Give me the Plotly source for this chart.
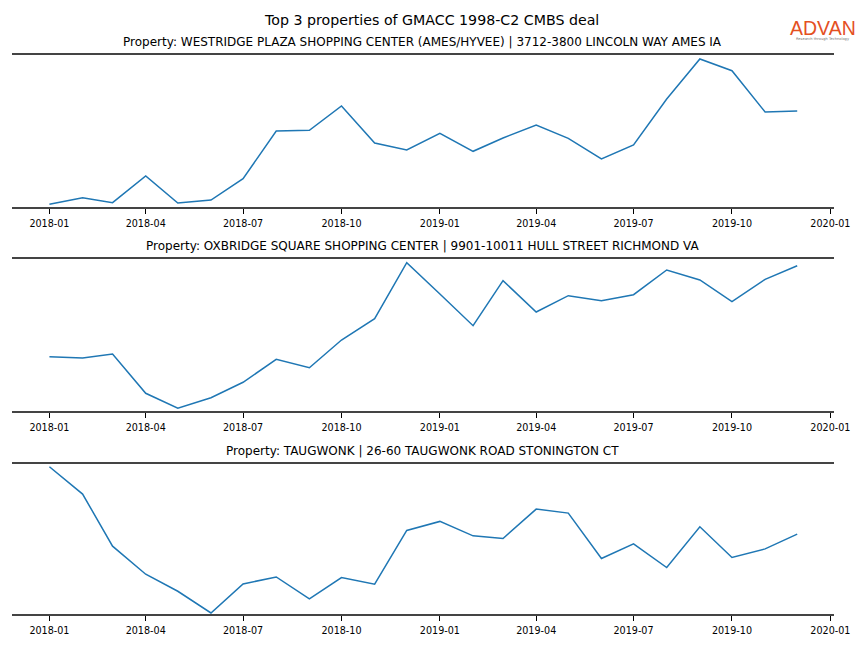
import plotly.graph_objects as go

months = [f"{y}-{m:02d}-01" for y in (2018, 2019) for m in range(1, 13)]

title = "Top 3 properties of GMACC 1998-C2 CMBS deal"
prop_titles = [
    "Property: WESTRIDGE PLAZA SHOPPING CENTER (AMES/HYVEE) | 3712-3800 LINCOLN WAY AMES IA",
    "Property: OXBRIDGE SQUARE SHOPPING CENTER | 9901-10011 HULL STREET RICHMOND VA",
    "Property: TAUGWONK | 26-60 TAUGWONK ROAD STONINGTON CT",
]

# relative foot-traffic index values
westridge = [2.7, 9.3, 4.3, 31.0, 4.0, 7.0, 28.3, 76.0, 76.7, 101.0, 64.0, 57.0,
             73.7, 55.7, 69.0, 82.0, 68.7, 48.0, 62.0, 108.0, 148.0, 136.3, 95.0, 96.0]
oxbridge = [54.3, 53.0, 57.0, 17.7, 2.7, 13.3, 28.7, 51.7, 43.3, 71.0, 92.3, 148.3,
            117.0, 85.3, 130.3, 99.0, 115.3, 110.3, 116.3, 141.0, 131.0, 109.3, 131.7, 145.3]
taugwonk = [147.0, 119.7, 67.7, 39.7, 22.7, 1.0, 30.0, 37.0, 15.0, 36.4, 29.7, 83.4,
            92.4, 78.0, 75.4, 104.7, 100.7, 55.4, 70.0, 46.4, 87.0, 56.4, 65.0, 79.7]
series = [westridge, oxbridge, taugwonk]
y_ranges = [[0, 152], [0, 152], [0, 149.7]]

x_range = ["2017-11-27", "2020-01-04"]

# page body has an 8px margin; horizontal rendering is slightly narrower (k)
OFF = 8
KX = 0.982
W, H = 864, 648 - 2 * OFF
def px_x(p):
    return (p - OFF) / KX / W
def px_y(p):
    return 1 - (p - OFF) / H

x_dom = [px_x(12), px_x(835)]
panels_px = [(55, 207), (259, 411), (464, 614)]

fig = go.Figure()
annotations = []
for i, (vals, (top, bot)) in enumerate(zip(series, panels_px)):
    idx = "" if i == 0 else str(i + 1)
    fig.add_trace(go.Scatter(x=months, y=vals, mode="lines",
                             line=dict(color="#1f77b4", width=1.5),
                             xaxis="x" + idx, yaxis="y" + idx, showlegend=False))
    ydom = [px_y(bot), px_y(top)]
    fig.update_layout(**{
        "xaxis" + idx: dict(domain=x_dom, anchor="y" + idx, type="date", range=x_range,
                            tickformat="%Y-%m", dtick="M3", tick0="2018-01-01",
                            showline=True, mirror=True, linewidth=2, linecolor="#444444",
                            ticks="outside", ticklen=5, tickwidth=1, tickcolor="#000",
                            ticklabelstandoff=1,
                            showgrid=False, zeroline=False,
                            tickfont=dict(family="DejaVu Sans", size=9.6, color="#000")),
        "yaxis" + idx: dict(domain=ydom, anchor="x" + idx, range=y_ranges[i],
                            showline=False, showgrid=False, zeroline=False,
                            showticklabels=False, ticks=""),
    })
    annotations.append(dict(text=prop_titles[i], xref="paper", yref="paper",
                            x=(x_dom[0] + x_dom[1]) / 2, y=ydom[1], xanchor="center",
                            yanchor="bottom", yshift=4, showarrow=False,
                            font=dict(family="DejaVu Sans", size=12, color="#000")))

annotations.append(dict(text=title, xref="paper", yref="paper", x=px_x(432), y=px_y(20),
                        xanchor="center", yanchor="middle", showarrow=False,
                        font=dict(family="DejaVu Sans", size=14.2, color="#000")))
annotations.append(dict(text="ADVAN", xref="paper", yref="paper", x=px_x(824.5), y=px_y(27.5),
                        xanchor="center", yanchor="middle", showarrow=False,
                        font=dict(family="Liberation Sans", size=19.5, color="#e4501f")))
annotations.append(dict(text="Research through Technology", xref="paper", yref="paper",
                        x=px_x(824.5), y=px_y(38.5), xanchor="center", yanchor="middle",
                        showarrow=False,
                        font=dict(family="DejaVu Sans", size=3.6, color="#777")))

fig.update_layout(width=W, height=H, margin=dict(l=0, r=0, t=0, b=0),
                  paper_bgcolor="white", plot_bgcolor="white",
                  annotations=annotations)

fig.write_html("out.html")
